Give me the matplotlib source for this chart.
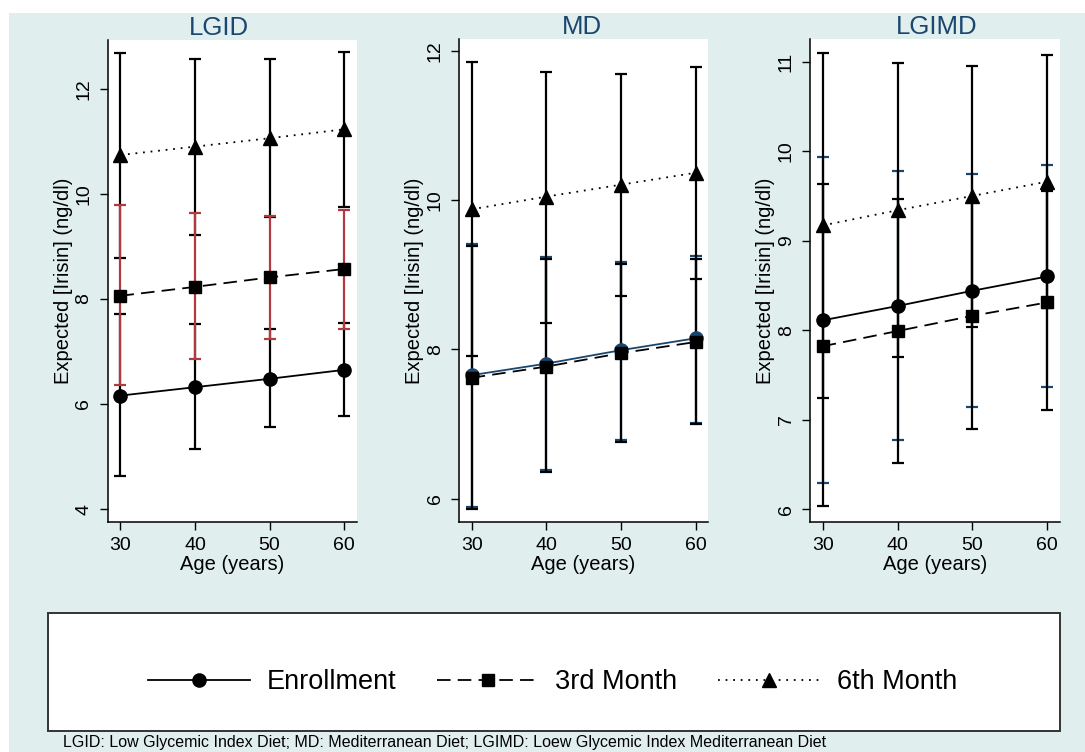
import matplotlib
matplotlib.use("Agg")
import matplotlib.pyplot as plt
from matplotlib.lines import Line2D
from matplotlib.patches import Rectangle

plt.rcParams["font.family"] = ["Liberation Sans", "DejaVu Sans"]

# Datos
ages = [30, 40, 50, 60]

# LGID
lgid_enr = [6.16, 6.32, 6.48, 6.65]
lgid_enr_lo = [4.62, 5.14, 5.56, 5.77]
lgid_enr_hi = [7.71, 7.52, 7.43, 7.54]
lgid_m3 = [8.06, 8.23, 8.41, 8.57]
lgid_m3_lo = [6.37, 6.86, 7.23, 7.43]
lgid_m3_hi = [9.79, 9.63, 9.58, 9.70]
lgid_m6 = [10.74, 10.90, 11.06, 11.23]
lgid_m6_lo = [8.78, 9.22, 9.56, 9.75]
lgid_m6_hi = [12.68, 12.57, 12.57, 12.70]

# MD
md_enr = [7.655, 7.81, 7.99, 8.15]
md_enr_lo = [5.89, 6.38, 6.78, 7.02]
md_enr_hi = [9.42, 9.24, 9.17, 9.26]
md_m3 = [7.62, 7.77, 7.95, 8.10]
md_m3_lo = [5.86, 6.36, 6.76, 7.00]
md_m3_hi = [9.39, 9.21, 9.14, 9.22]
md_m6 = [9.88, 10.05, 10.21, 10.37]
md_m6_lo = [7.91, 8.36, 8.72, 8.95]
md_m6_hi = [11.85, 11.72, 11.69, 11.79]

# LGIMD
lgimd_enr = [8.11, 8.27, 8.44, 8.60]
lgimd_enr_lo = [6.29, 6.77, 7.14, 7.36]
lgimd_enr_hi = [9.93, 9.78, 9.74, 9.85]
lgimd_m3 = [7.82, 7.99, 8.16, 8.31]
lgimd_m3_lo = [6.03, 6.51, 6.89, 7.11]
lgimd_m3_hi = [9.63, 9.47, 9.43, 9.55]
lgimd_m6 = [9.17, 9.34, 9.50, 9.66]
lgimd_m6_lo = [7.24, 7.70, 8.04, 8.25]
lgimd_m6_hi = [11.10, 10.98, 10.95, 11.07]

legend_labels = ["Enrollment", "3rd Month", "6th Month"]
footnote = ("LGID: Low Glycemic Index Diet; MD: Mediterranean Diet; "
            "LGIMD: Loew Glycemic Index Mediterranean Diet")

NAVY = "#1a476f"
RED = "#b03a3e"
BG = "#e0eeee"

DASHED = (0, (7.5, 4))
DOTTED = (0, (1, 3.2))


def dibujar_serie(ax, y, lo, hi, ls, marker, line_color, ci_color, ci_z, ms):
    err = [[v - a for v, a in zip(y, lo)], [b - v for v, b in zip(y, hi)]]
    ax.errorbar(ages, y, yerr=err, fmt="none", ecolor=ci_color,
                elinewidth=1.6, capsize=4, capthick=1.6, zorder=ci_z)
    ax.plot(ages, y, color=line_color, linestyle=ls, linewidth=1.3,
            marker=marker, markersize=ms, markerfacecolor=line_color,
            markeredgecolor=line_color, zorder=4)


def preparar_ejes(ax, titulo, ylim, yticks, tx, tpad):
    ax.set_xlim(28.3, 61.7)
    ax.set_ylim(*ylim)
    ax.set_xticks([30, 40, 50, 60])
    ax.set_yticks(yticks)
    ax.spines["top"].set_visible(False)
    ax.spines["right"].set_visible(False)
    ax.spines["left"].set_linewidth(1.1)
    ax.spines["bottom"].set_linewidth(1.1)
    ax.tick_params(direction="out", length=6, width=1, labelsize=14, pad=5)
    for lab in ax.get_yticklabels():
        lab.set_rotation(90)
        lab.set_va("center")
    ax.set_xlabel("Age (years)", fontsize=14.5, labelpad=1)
    ax.set_ylabel("Expected [Irisin] (ng/dl)", fontsize=14.5, labelpad=2)
    ax.set_title(titulo, color=NAVY, fontsize=18.5, x=tx, pad=tpad)


fig = plt.figure(figsize=(10.85, 7.52), dpi=100)
fig.patch.set_facecolor("white")

# Fondo del grafico
fig.patches.append(Rectangle((9 / 1085, 0), 1, 1 - 13 / 752,
                             transform=fig.transFigure, facecolor=BG,
                             edgecolor="none", zorder=-2))

ax1 = fig.add_axes([0.0993, 0.3063, 0.2295, 0.6405])
ax2 = fig.add_axes([0.4230, 0.3063, 0.2298, 0.6414])
ax3 = fig.add_axes([0.7465, 0.3063, 0.2304, 0.6414])

# Panel LGID
dibujar_serie(ax1, lgid_enr, lgid_enr_lo, lgid_enr_hi, "-", "o", "black", "black", 2, 9.5)
dibujar_serie(ax1, lgid_m6, lgid_m6_lo, lgid_m6_hi, DOTTED, "^", "black", "black", 2, 10)
dibujar_serie(ax1, lgid_m3, lgid_m3_lo, lgid_m3_hi, DASHED, "s", "black", RED, 3, 9)
preparar_ejes(ax1, "LGID", (3.76, 12.93), [4, 6, 8, 10, 12], 0.447, 0.5)

# Panel MD
dibujar_serie(ax2, md_enr, md_enr_lo, md_enr_hi, "-", "o", NAVY, NAVY, 2, 9.5)
dibujar_serie(ax2, md_m3, md_m3_lo, md_m3_hi, DASHED, "s", "black", "black", 2, 9)
dibujar_serie(ax2, md_m6, md_m6_lo, md_m6_hi, DOTTED, "^", "black", "black", 2, 10)
preparar_ejes(ax2, "MD", (5.69, 12.16), [6, 8, 10, 12], 0.493, -1.7)

# Panel LGIMD
dibujar_serie(ax3, lgimd_enr, lgimd_enr_lo, lgimd_enr_hi, "-", "o", "black", NAVY, 1.5, 9.5)
dibujar_serie(ax3, lgimd_m3, lgimd_m3_lo, lgimd_m3_hi, DASHED, "s", "black", "black", 2, 9)
dibujar_serie(ax3, lgimd_m6, lgimd_m6_lo, lgimd_m6_hi, DOTTED, "^", "black", "black", 2, 10)
preparar_ejes(ax3, "LGIMD", (5.86, 11.25), [6, 7, 8, 9, 10, 11], 0.508, 1.9)

# Caja de la leyenda
fig.patches.append(Rectangle((48 / 1085, 1 - 730.7 / 752), 1012 / 1085, 118 / 752,
                             transform=fig.transFigure, facecolor="white",
                             edgecolor="#333333", linewidth=1.4, zorder=-1))

handles = [
    Line2D([], [], color="black", lw=1.3, marker="o", markersize=9.5),
    Line2D([], [], color="black", lw=1.3, linestyle=DASHED, marker="s", markersize=9),
    Line2D([], [], color="black", lw=1.3, linestyle=DOTTED, marker="^", markersize=10),
]
fig.legend(handles, legend_labels, loc="center",
           bbox_to_anchor=(552.5 / 1085, 1 - 682 / 752), ncol=3,
           frameon=False, fontsize=19.5, handlelength=3.76,
           handletextpad=0.62, columnspacing=1.5, numpoints=1)

fig.text(63 / 1085, 1 - 742 / 752, footnote, fontsize=11.5, va="center")

fig.savefig("out.png", dpi=100)
